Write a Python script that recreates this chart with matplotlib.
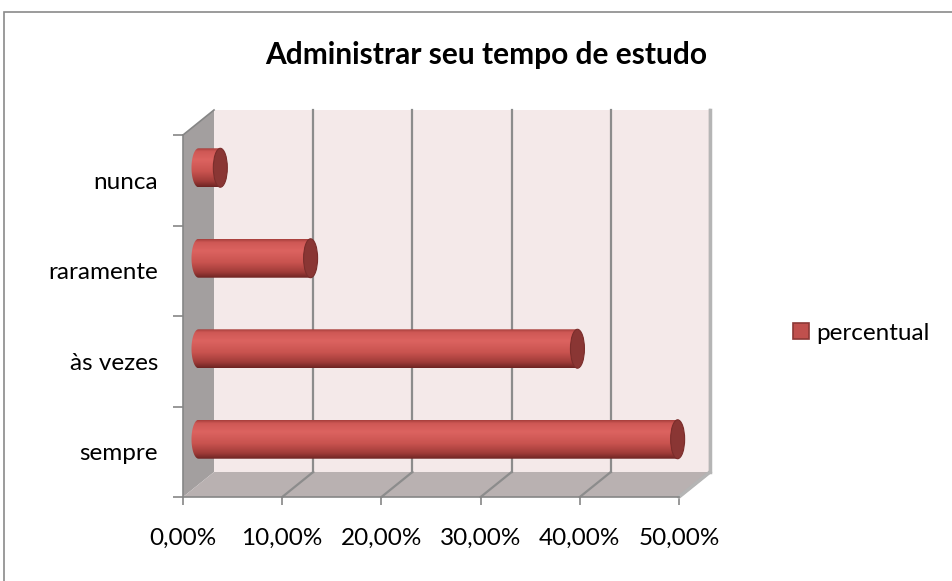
import numpy as np
import matplotlib
matplotlib.use("Agg")
import matplotlib.pyplot as plt
from matplotlib.patches import Rectangle, Polygon, Ellipse, Patch, PathPatch
from matplotlib.path import Path
from matplotlib.colors import to_rgb

plt.rcParams["font.family"] = ["Lato", "DejaVu Sans"]

# data
categories = ["sempre", "às vezes", "raramente", "nunca"]
percentual = [48.3, 38.2, 11.3, 2.2]
x_ticks = [0, 10, 20, 30, 40, 50]
x_tick_labels = ["0,00%", "10,00%", "20,00%", "30,00%", "40,00%", "50,00%"]

TITLE = "Administrar seu tempo de estudo"
GRID = "#8c8c8c"
AXIS = "#868686"
WALL = "#f4e9e9"
SIDE = "#a39f9f"
FLOOR = "#b9b1b1"
BAR = "#c0504d"
CAP = "#8a3634"

W, H = 953, 581
fig = plt.figure(figsize=(W / 100, H / 100), dpi=100)

# chart area border
fig.patches.append(Rectangle((4 / W, -0.01), 1.0, (H - 12) / H + 0.01, transform=fig.transFigure,
                             facecolor="white", edgecolor="#8a8a8a", lw=1.2, zorder=-10))

# front plane of the 3d box in pixels
left, right, top, bottom = 183, 679, 135, 497
ax = fig.add_axes([left / W, (H - bottom) / H, (right - left) / W, (bottom - top) / H])
ax.set_xlim(0, 50)
ax.set_ylim(-0.5, len(categories) - 0.5)
ax.patch.set_visible(False)

# depth of the box converted to data units
depth_px = (31, 25)
ddx = depth_px[0] * 50 / (right - left)
ddy = depth_px[1] * len(categories) / (bottom - top)
y0, y1 = -0.5, len(categories) - 0.5
xmax = 50

# back wall, side wall, floor
ax.add_patch(Rectangle((ddx, y0 + ddy), xmax, y1 - y0, facecolor=WALL, edgecolor="none", zorder=0, clip_on=False))
ax.add_patch(Polygon([(0, y0), (0, y1), (ddx, y1 + ddy), (ddx, y0 + ddy)], facecolor=SIDE,
                     edgecolor="none", zorder=1, clip_on=False))
ax.add_patch(Polygon([(0, y0), (xmax, y0), (xmax + ddx, y0 + ddy), (ddx, y0 + ddy)], facecolor=FLOOR,
                     edgecolor="none", zorder=1, clip_on=False))

# gridlines on back wall and floor
for t in x_ticks[1:]:
    ax.plot([t + ddx, t + ddx], [y0 + ddy, y1 + ddy], color=GRID, lw=1.6, zorder=2, clip_on=False)
    ax.plot([t, t + ddx], [y0, y0 + ddy], color=GRID, lw=1.6, zorder=2, clip_on=False)
ax.plot([xmax + ddx, xmax + ddx], [y0 + ddy, y1 + ddy], color="#b5b5b5", lw=2.5, zorder=2, clip_on=False)
ax.plot([xmax, xmax + ddx], [y0, y0 + ddy], color="#b5b5b5", lw=2.5, zorder=2, clip_on=False)
ax.plot([0, ddx], [y1, y1 + ddy], color=AXIS, lw=1.2, zorder=2, clip_on=False)

# cylinder bars at half depth
stops = [(0.0, "#a9403d"), (0.08, "#cf5855"), (0.3, "#dc6360"), (0.6, "#c9534f"),
         (0.85, "#a03c39"), (1.0, "#6e2423")]
n = 64
pos = np.linspace(0, 1, n)
grad = np.zeros((n, 1, 3))
for c in range(3):
    grad[:, 0, c] = np.interp(pos, [s[0] for s in stops], [to_rgb(s[1])[c] for s in stops])

bar_h = 0.43
cap_w = 14 * 50 / (right - left)
for i, v in enumerate(percentual):
    yc = i + ddy / 2
    xs = ddx / 2
    xe = v + ddx / 2
    th = np.linspace(np.pi / 2, 3 * np.pi / 2, 30)
    verts = [(xs + cap_w / 2 * np.cos(a), yc + bar_h / 2 * np.sin(a)) for a in th]
    verts += [(xe, yc - bar_h / 2), (xe, yc + bar_h / 2), verts[0]]
    clip = PathPatch(Path(verts), transform=ax.transData, facecolor="none", edgecolor="none")
    ax.add_patch(clip)
    im = ax.imshow(grad, extent=[xs - cap_w / 2, xe, yc - bar_h / 2, yc + bar_h / 2],
                   aspect="auto", origin="upper", zorder=3, interpolation="bilinear")
    im.set_clip_path(clip)
    ax.add_patch(Ellipse((xe, yc), cap_w, bar_h, facecolor=CAP, edgecolor="#7a2d2b", lw=0.8,
                         zorder=4, clip_on=False))

# axes, ticks, labels
for side in ["top", "right"]:
    ax.spines[side].set_visible(False)
for side in ["left", "bottom"]:
    ax.spines[side].set_color(AXIS)
    ax.spines[side].set_linewidth(1.2)
    ax.spines[side].set_zorder(2.5)
ax.set_xticks(x_ticks)
ax.set_xticklabels(x_tick_labels, fontsize=17.5)
ax.tick_params(axis="x", direction="out", length=6, width=1.2, color=AXIS, pad=16)
ax.set_yticks(range(len(categories)))
ax.set_yticklabels(categories, fontsize=17.5)
ax.tick_params(axis="y", which="major", length=0, pad=18)
ax.set_yticks(np.arange(y0, y1 + 0.01, 1), minor=True)
ax.tick_params(axis="y", which="minor", direction="out", length=7, width=1.2, color=AXIS)

fig.text(486 / W, 1 - 64 / H, TITLE, ha="center", va="baseline", fontsize=21.5, fontweight="bold")

fig.legend(handles=[Patch(facecolor=BAR, edgecolor="#8c3836", lw=1.2)], labels=["percentual"],
           loc="center left", bbox_to_anchor=(793 / W, 1 - 333 / H), frameon=False, fontsize=17.5,
           handlelength=0.65, handleheight=0.65, handletextpad=0.3, borderpad=0, borderaxespad=0)

fig.savefig("out.png", dpi=100)
